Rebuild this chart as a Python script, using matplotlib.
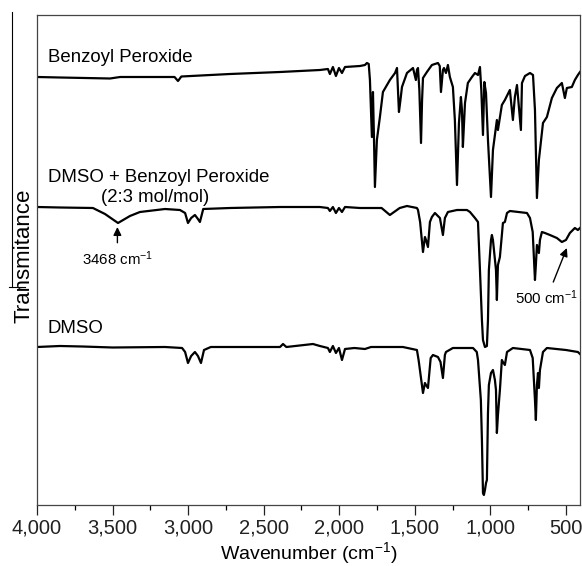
import matplotlib
matplotlib.use("Agg")
import matplotlib.pyplot as plt
from matplotlib.lines import Line2D
from matplotlib.ticker import MultipleLocator, FuncFormatter

plt.rcParams['font.family'] = ['Liberation Sans', 'DejaVu Sans']
plt.rcParams['mathtext.default'] = 'regular'

# Benzoyl peroxide spectrum (wavenumber, relative transmittance)
bpo_wn = [4000, 3848, 3517, 3450, 3150, 3090, 3067, 3045, 2723, 2392, 2128, 2075,
          2062, 2042, 2022, 2002, 1982, 1962, 1863, 1830, 1817, 1805, 1797, 1784,
          1777, 1770, 1764, 1751, 1731, 1711, 1665, 1631, 1618, 1605, 1595, 1585,
          1552, 1512, 1493, 1486, 1479, 1470, 1459, 1452, 1446, 1420, 1387, 1347,
          1335, 1327, 1314, 1307, 1294, 1281, 1268, 1248, 1235, 1221, 1208, 1195,
          1188, 1182, 1175, 1168, 1149, 1122, 1102, 1082, 1069, 1060, 1049, 1040,
          1029, 1016, 996, 983, 957, 950, 924, 904, 871, 851, 838, 824, 798, 791,
          771, 738, 718, 705, 692, 679, 652, 626, 593, 560, 527, 507, 494, 461,
          441, 421, 407]
bpo_t = [428, 427.5, 426.5, 428, 428, 428, 424, 428.5, 431, 433, 435, 436,
         431, 438, 429, 437, 432, 438, 439, 440, 442, 441, 425, 368,
         413, 365, 318, 365, 388, 413, 425, 432, 437, 393, 405, 418,
         432, 437, 425, 435, 437, 415, 362, 405, 427, 433, 440, 442,
         439, 413, 435, 437, 432, 440, 428, 418, 385, 320, 382, 408,
         395, 358, 380, 402, 422, 428, 432, 430, 438, 415, 370, 423,
         412, 365, 308, 355, 385, 375, 400, 405, 415, 385, 408, 420, 375, 422,
         429, 432, 430, 395, 307, 345, 382, 388, 407, 417, 422, 407, 417, 418,
         425, 430, 433]

# DMSO + benzoyl peroxide (2:3 mol/mol)
mix_wn = [4000, 3848, 3630, 3550, 3464, 3385, 3319, 3153, 3054, 3020, 3001, 2980,
          2955, 2935, 2922, 2900, 2723, 2392, 2128, 2075, 2062, 2042, 2022, 2002,
          1982, 1962, 1863, 1720, 1665, 1600, 1552, 1486, 1479, 1465, 1446, 1433,
          1426, 1413, 1400, 1387, 1367, 1334, 1314, 1301, 1281, 1221, 1155, 1135,
          1102, 1082, 1069, 1056, 1049, 1036, 1023, 1016, 1010, 996, 990, 983,
          963, 957, 950, 937, 924, 917, 904, 890, 871, 758, 738, 720, 705, 699,
          692, 679, 672, 659, 639, 606, 560, 527, 500, 474, 441, 421, 407]
mix_t = [298, 297.5, 297, 291, 282, 289, 293, 296, 295, 292, 282, 287,
         290, 286, 283, 296, 297, 298, 298, 297, 294, 298, 292, 297,
         293, 298, 297, 297, 290, 297, 299, 297, 295, 283, 253, 268,
         265, 258, 283, 288, 292, 287, 270, 287, 293, 295, 295, 293,
         287, 283, 235, 185, 165, 158, 159, 185, 235, 265, 270, 265,
         235, 205, 240, 248, 270, 282, 283, 292, 294, 292, 287, 273, 225, 240,
         260, 252, 265, 273, 272, 270, 267, 263, 265, 272, 277, 275, 277]

# DMSO
dmso_wn = [4000, 3848, 3700, 3500, 3153, 3040, 3020, 3001, 2980, 2955, 2935, 2915,
           2895, 2850, 2392, 2372, 2350, 2174, 2128, 2075, 2062, 2042, 2022, 2002,
           1982, 1962, 1900, 1830, 1790, 1579, 1486, 1475, 1446, 1433, 1426, 1413,
           1395, 1380, 1347, 1330, 1314, 1301, 1294, 1248, 1115, 1090, 1082, 1063,
           1056, 1049, 1043, 1036, 1029, 1023, 1016, 1010, 996, 983, 970, 963,
           957, 950, 937, 924, 917, 904, 890, 851, 738, 720, 705, 699, 692, 685,
           679, 672, 652, 626, 500, 421, 407]
dmso_t = [158, 159, 158.5, 157.5, 158, 157, 153, 142, 149, 153, 149, 142,
          155, 158, 158, 161, 158, 161, 159, 157, 153, 159, 152, 157,
          145, 156, 157, 156, 158, 158, 155, 145, 112, 122, 120, 117,
          147, 150, 148, 143, 127, 150, 153, 157, 157, 153, 145, 105,
          65, 12, 10, 15, 22, 25, 92, 120, 132, 135, 125, 115,
          72, 90, 115, 145, 143, 140, 153, 157, 155, 147, 105, 85, 120, 132,
          117, 135, 153, 157, 155, 153, 151]

fig = plt.figure(figsize=(5.82, 5.66), dpi=100)
ax = fig.add_axes([37 / 582, 1 - 505 / 566, 543 / 582, 490 / 566])

for wn, t in [(bpo_wn, bpo_t), (mix_wn, mix_t), (dmso_wn, dmso_t)]:
    ax.plot(wn, t, color='black', lw=1.6, solid_joinstyle='round')

ax.set_xlim(4000, 407)
ax.set_ylim(0, 490)
ax.set_yticks([])
ax.xaxis.set_major_locator(MultipleLocator(500))
ax.xaxis.set_minor_locator(MultipleLocator(250))
ax.xaxis.set_major_formatter(FuncFormatter(lambda v, p: f'{v:,.0f}'))
ax.tick_params(axis='x', which='major', direction='out', length=7, width=0.9,
               labelsize=14.5, pad=3, colors='#222222')
ax.tick_params(axis='x', which='minor', direction='out', length=3.5, width=0.9)
for s in ax.spines.values():
    s.set_color('#444444')
    s.set_linewidth(0.9)

ax.set_xlabel('Wavenumber (cm$^{-1}$)', fontsize=14, labelpad=1.5)
ax.set_ylabel('Transmitance', fontsize=16)
ax.yaxis.set_label_coords(-0.005, 0.508)

tkw = dict(transform=ax.transAxes, fontsize=13.4, va='center', ha='left')
ax.text(0.020, 0.914, 'Benzoyl Peroxide', **tkw)
ax.text(0.020, 0.669, 'DMSO + Benzoyl Peroxide', **tkw)
ax.text(0.217, 0.627, '(2:3 mol/mol)', transform=ax.transAxes, fontsize=13.4,
        va='center', ha='center')
ax.text(0.020, 0.361, 'DMSO', **tkw)

arrow = dict(arrowstyle='-|>,head_length=0.45,head_width=0.22', color='black',
             lw=1.0, shrinkA=3, shrinkB=0)
ax.annotate('3468 cm$^{-1}$', xy=(3468, 278), xytext=(3468, 246), ha='center',
            va='center', fontsize=10.8, arrowprops=arrow)
ax.annotate('500 cm$^{-1}$', xy=(494, 257), xytext=(626, 207), ha='center',
            va='center', fontsize=10.8, arrowprops=arrow)

# stray rule left of the axis title in the original figure
fig.add_artist(Line2D([12 / 582, 12 / 582], [1 - 12 / 566, 1 - 287 / 566],
                      color='black', lw=0.8))
fig.add_artist(Line2D([9 / 582, 25 / 582], [1 - 287 / 566, 1 - 287 / 566],
                      color='black', lw=0.8))

fig.savefig('out.png', dpi=100)
